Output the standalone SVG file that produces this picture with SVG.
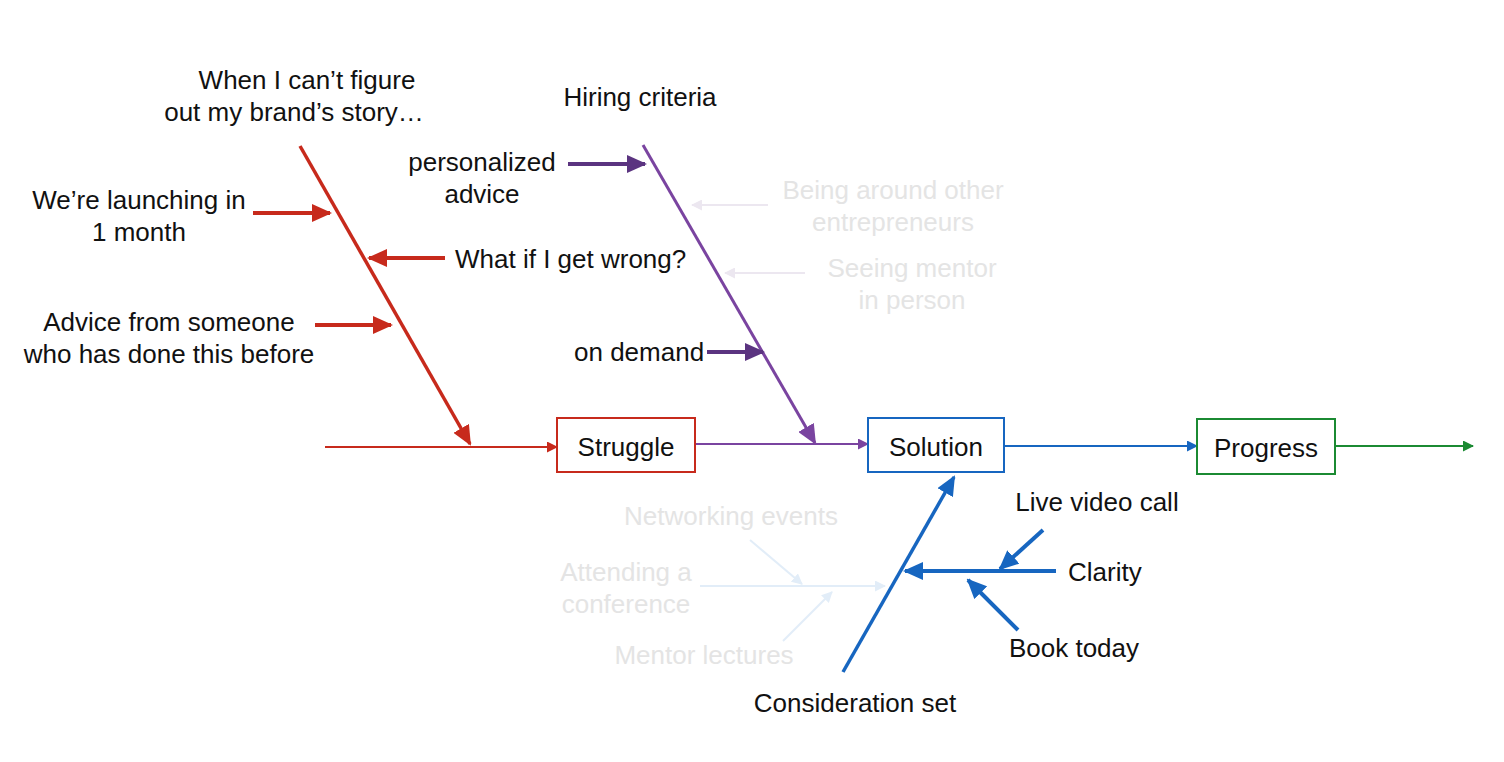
<svg xmlns="http://www.w3.org/2000/svg" width="1504" height="762" viewBox="0 0 1504 762">
<style>
text{font-family:"Liberation Sans",Arial,sans-serif;font-size:26px;fill:#111;}
.faint{fill:#e4e4e4;}
.box{fill:#fff;stroke-width:2;}
.m{text-anchor:middle;}
</style>
<defs>
<marker id="hR" markerUnits="userSpaceOnUse" markerWidth="20" markerHeight="18" refX="18" refY="9" orient="auto"><path d="M0,0 L20,9 L0,18 z" fill="#c72a1c"/></marker>
<marker id="hP" markerUnits="userSpaceOnUse" markerWidth="20" markerHeight="18" refX="18" refY="9" orient="auto"><path d="M0,0 L20,9 L0,18 z" fill="#7a44a0"/></marker>
<marker id="hPd" markerUnits="userSpaceOnUse" markerWidth="20" markerHeight="18" refX="18" refY="9" orient="auto"><path d="M0,0 L20,9 L0,18 z" fill="#5b3480"/></marker>
<marker id="hB" markerUnits="userSpaceOnUse" markerWidth="20" markerHeight="18" refX="18" refY="9" orient="auto"><path d="M0,0 L20,9 L0,18 z" fill="#1766c0"/></marker>
<marker id="sR" markerUnits="userSpaceOnUse" markerWidth="11" markerHeight="11" refX="10" refY="5.5" orient="auto"><path d="M0,0 L11,5.5 L0,11 z" fill="#c72a1c"/></marker>
<marker id="sP" markerUnits="userSpaceOnUse" markerWidth="11" markerHeight="11" refX="10" refY="5.5" orient="auto"><path d="M0,0 L11,5.5 L0,11 z" fill="#7a44a0"/></marker>
<marker id="sB" markerUnits="userSpaceOnUse" markerWidth="11" markerHeight="11" refX="10" refY="5.5" orient="auto"><path d="M0,0 L11,5.5 L0,11 z" fill="#1766c0"/></marker>
<marker id="sG" markerUnits="userSpaceOnUse" markerWidth="11" markerHeight="11" refX="10" refY="5.5" orient="auto"><path d="M0,0 L11,5.5 L0,11 z" fill="#1b8a32"/></marker>
<marker id="fL" markerUnits="userSpaceOnUse" markerWidth="11" markerHeight="11" refX="10" refY="5.5" orient="auto"><path d="M0,0 L11,5.5 L0,11 z" fill="#ece7f0"/></marker>
<marker id="fB" markerUnits="userSpaceOnUse" markerWidth="11" markerHeight="11" refX="10" refY="5.5" orient="auto"><path d="M0,0 L11,5.5 L0,11 z" fill="#e2edf8"/></marker>
</defs>

<g id="connectors" fill="none">
  <line x1="325" y1="447" x2="557" y2="447" stroke="#c72a1c" stroke-width="2" marker-end="url(#sR)"/>
  <line x1="695" y1="444" x2="868" y2="444" stroke="#7a44a0" stroke-width="2" marker-end="url(#sP)"/>
  <line x1="1004" y1="446" x2="1197" y2="446" stroke="#1766c0" stroke-width="2" marker-end="url(#sB)"/>
  <line x1="1335" y1="446" x2="1473" y2="446" stroke="#1b8a32" stroke-width="2" marker-end="url(#sG)"/>
  <line x1="300" y1="146" x2="470" y2="444" stroke="#c72a1c" stroke-width="3.5" marker-end="url(#hR)"/>
  <line x1="253" y1="213" x2="330" y2="213" stroke="#c72a1c" stroke-width="4" marker-end="url(#hR)"/>
  <line x1="445" y1="258" x2="369" y2="258" stroke="#c72a1c" stroke-width="4" marker-end="url(#hR)"/>
  <line x1="315" y1="325" x2="391" y2="325" stroke="#c72a1c" stroke-width="4" marker-end="url(#hR)"/>
  <line x1="643" y1="145" x2="815" y2="443" stroke="#7a44a0" stroke-width="3" marker-end="url(#hP)"/>
  <line x1="568" y1="164" x2="645" y2="164" stroke="#5b3480" stroke-width="4" marker-end="url(#hPd)"/>
  <line x1="707" y1="352" x2="763" y2="352" stroke="#5b3480" stroke-width="4" marker-end="url(#hPd)"/>
  <line x1="768" y1="205" x2="692" y2="205" stroke="#ece7f0" stroke-width="2" marker-end="url(#fL)"/>
  <line x1="805" y1="273" x2="725" y2="273" stroke="#ece7f0" stroke-width="2" marker-end="url(#fL)"/>
  <line x1="843" y1="672" x2="954" y2="477" stroke="#1766c0" stroke-width="3.5" marker-end="url(#hB)"/>
  <line x1="1056" y1="571" x2="905" y2="571" stroke="#1766c0" stroke-width="4" marker-end="url(#hB)"/>
  <line x1="1043" y1="530" x2="1000" y2="569" stroke="#1766c0" stroke-width="4" marker-end="url(#hB)"/>
  <line x1="1018" y1="630" x2="968" y2="580" stroke="#1766c0" stroke-width="4" marker-end="url(#hB)"/>
  <line x1="700" y1="586" x2="885" y2="586" stroke="#e2edf8" stroke-width="2" marker-end="url(#fB)"/>
  <line x1="750" y1="540" x2="802" y2="584" stroke="#e2edf8" stroke-width="2" marker-end="url(#fB)"/>
  <line x1="783" y1="641" x2="832" y2="592" stroke="#e2edf8" stroke-width="2" marker-end="url(#fB)"/>
</g>

<g id="struggle"><rect class="box" x="557" y="418" width="138" height="54" stroke="#c72a1c"/><text class="m" x="626" y="456">Struggle</text></g>
<g id="solution"><rect class="box" x="868" y="418" width="136" height="54" stroke="#1766c0"/><text class="m" x="936" y="456">Solution</text></g>
<g id="progress"><rect class="box" x="1197" y="419" width="138" height="55" stroke="#1b8a32"/><text class="m" x="1266" y="457">Progress</text></g>

<g id="label-when"><text class="m" x="307" y="89">When I can’t figure</text><text class="m" x="294" y="121">out my brand’s story…</text></g>
<g id="label-hiring"><text class="m" x="640" y="106">Hiring criteria</text></g>
<g id="label-personalized"><text class="m" x="482" y="171">personalized</text><text class="m" x="482" y="203">advice</text></g>
<g id="label-launching"><text class="m" x="139" y="209">We’re launching in</text><text class="m" x="139" y="241">1 month</text></g>
<g id="label-whatif"><text x="455" y="268">What if I get wrong?</text></g>
<g id="label-advice"><text class="m" x="169" y="331">Advice from someone</text><text class="m" x="169" y="363">who has done this before</text></g>
<g id="label-ondemand"><text x="574" y="361">on demand</text></g>
<g id="label-being"><text class="m faint" x="893" y="199">Being around other</text><text class="m faint" x="893" y="231">entrepreneurs</text></g>
<g id="label-seeing"><text class="m faint" x="912" y="277">Seeing mentor</text><text class="m faint" x="912" y="309">in person</text></g>
<g id="label-live"><text class="m" x="1097" y="511">Live video call</text></g>
<g id="label-clarity"><text x="1068" y="581">Clarity</text></g>
<g id="label-book"><text class="m" x="1074" y="657">Book today</text></g>
<g id="label-consideration"><text class="m" x="855" y="712">Consideration set</text></g>
<g id="label-networking"><text class="m faint" x="731" y="525">Networking events</text></g>
<g id="label-attending"><text class="m faint" x="626" y="581">Attending a</text><text class="m faint" x="626" y="613">conference</text></g>
<g id="label-mentor"><text class="m faint" x="704" y="664">Mentor lectures</text></g>
</svg>
